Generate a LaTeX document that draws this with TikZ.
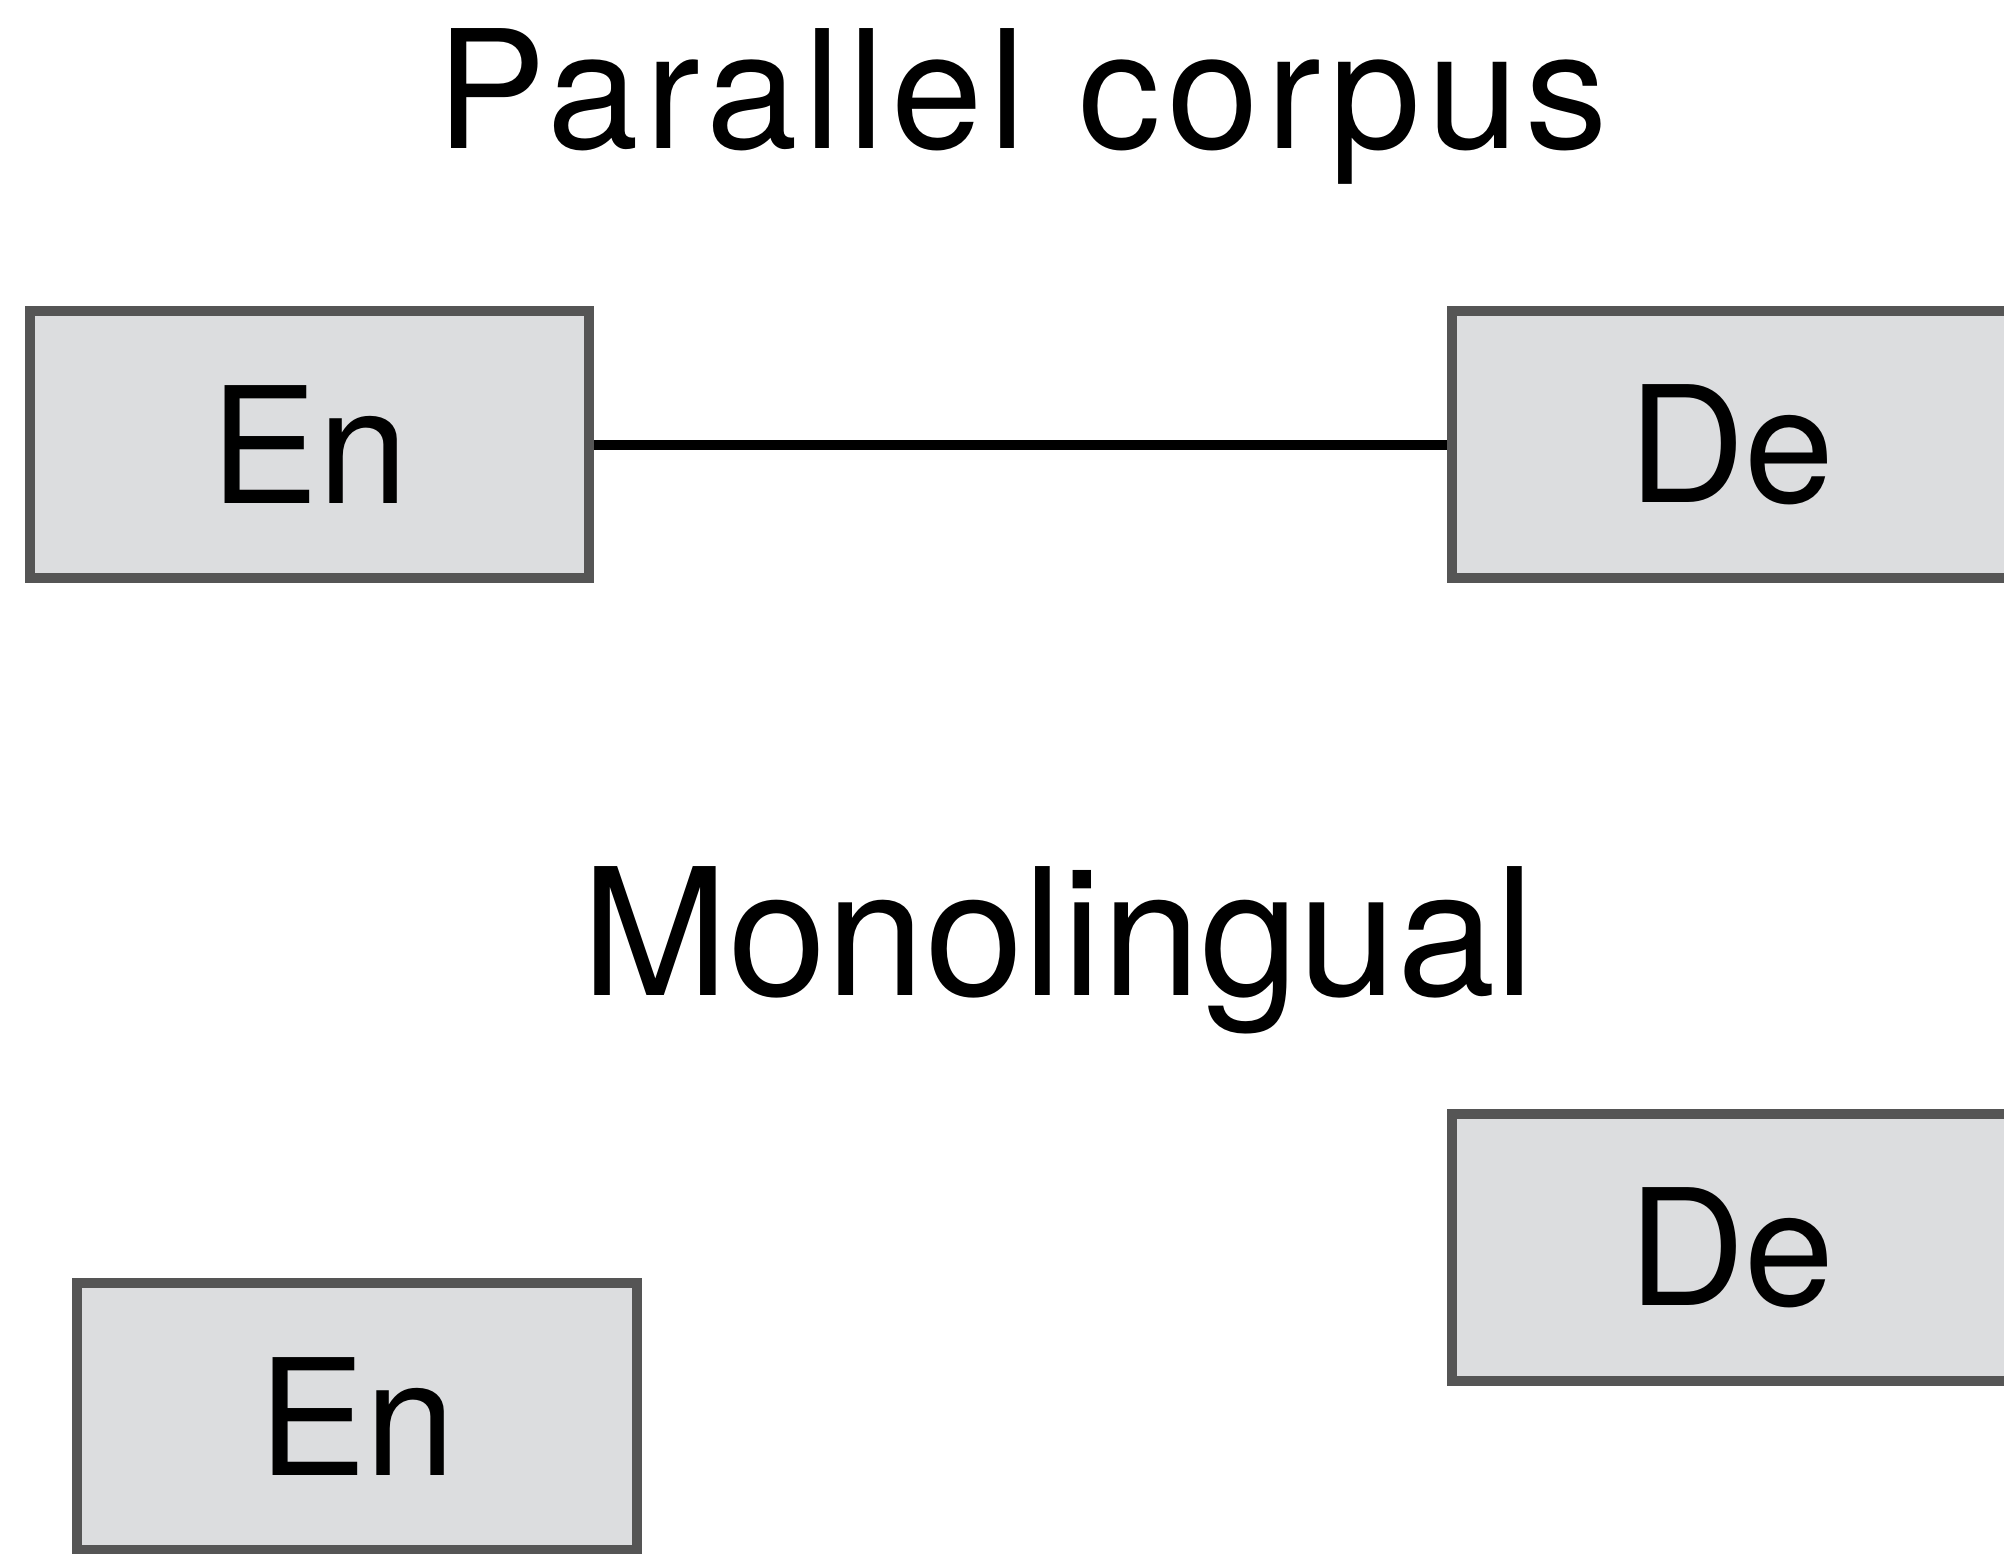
\documentclass[tikz,border=0pt]{standalone}
\usepackage{fontspec}
\setmainfont{TeX Gyre Heros}
\usepackage{xcolor}
\usetikzlibrary{positioning}

\definecolor{boxfill}{HTML}{DCDDDF}
\definecolor{boxline}{HTML}{555555}

\tikzset{
  lang/.style={draw=boxline, fill=boxfill, line width=0.1cm,
               minimum width=5.59cm, minimum height=2.67cm,
               inner sep=0pt, font=\fontsize{46pt}{50pt}\selectfont},
  heading/.style={anchor=base, inner sep=0pt}
}

\begin{document}
\begin{tikzpicture}[x=0.01cm, y=-0.01cm]
  \path[use as bounding box, clip] (0,0) rectangle (2004,1553);

  \node[heading, font=\fontsize{46.8pt}{50pt}\selectfont\addfontfeatures{LetterSpace=4.1}] (par) at (1022,148) {Parallel corpus};
  \node[lang] (en1) at (309.5,444.5) {En};
  \node[lang] (de1) at (1731.5,444.5) {De};
  \draw[line width=0.1cm] (en1.east) -- (de1.west);

  \node[heading, font=\fontsize{50.3pt}{54pt}\selectfont] (mono) at (1058,995) {Monolingual};
  \node[lang] (de2) at (1731.5,1247.5) {De};
  \node[lang] (en2) at (357,1416.5) {En};
\end{tikzpicture}
\end{document}
